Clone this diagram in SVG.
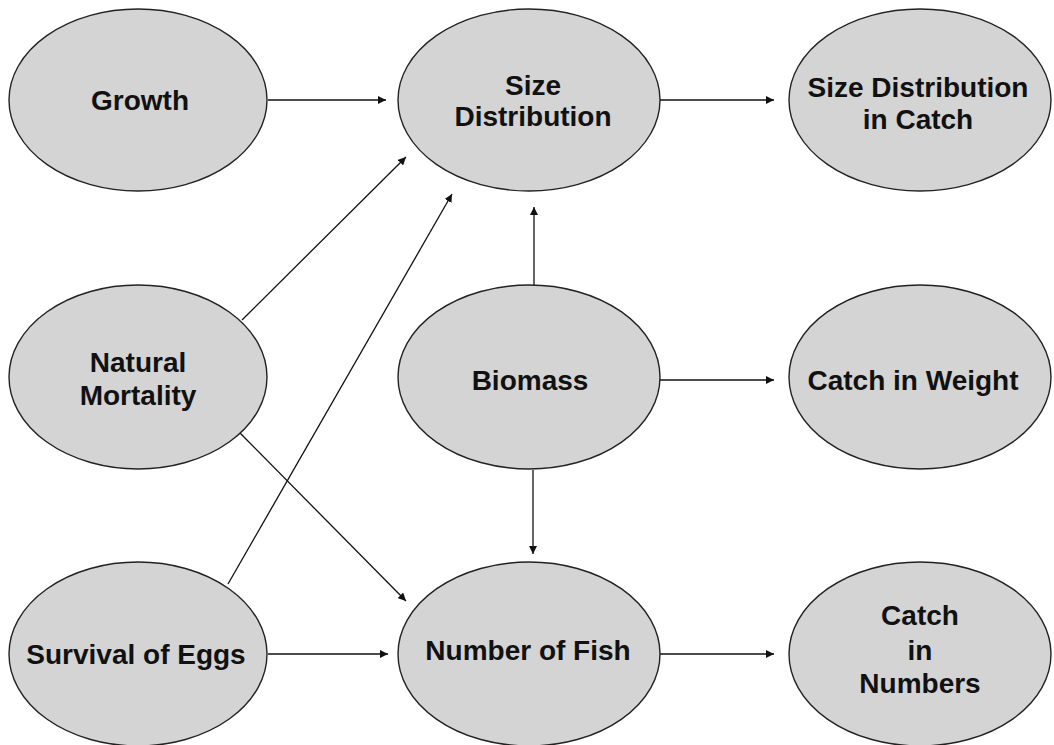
<svg xmlns="http://www.w3.org/2000/svg" width="1054" height="745" viewBox="0 0 1054 745">
<defs>
<style>
.n{fill:#d4d4d4;stroke:#222;stroke-width:1.4}
.t{font-family:"Liberation Sans",Arial,sans-serif;font-weight:bold;font-size:28px;fill:#111;text-anchor:middle}
.c{stroke:#111;stroke-width:1.3;fill:none;marker-end:url(#ah)}
</style>
<marker id="ah" viewBox="0 0 10 10" refX="10" refY="5" markerWidth="8" markerHeight="8" markerUnits="userSpaceOnUse" orient="auto">
<path d="M0,0 L10,5 L0,10 z" fill="#111"/>
</marker>
</defs>
<rect width="1054" height="745" fill="#fff"/>
<g id="connectors">
<line class="c" x1="268" y1="100" x2="386" y2="100"/>
<line class="c" x1="660" y1="100" x2="774" y2="100"/>
<line class="c" x1="660" y1="380" x2="774" y2="380"/>
<line class="c" x1="660" y1="654" x2="774" y2="654"/>
<line class="c" x1="268" y1="654" x2="388" y2="654"/>
<line class="c" x1="534" y1="285" x2="534" y2="207"/>
<line class="c" x1="533" y1="470" x2="533" y2="554"/>
<line class="c" x1="242" y1="320" x2="406" y2="157"/>
<line class="c" x1="228" y1="584" x2="452" y2="194"/>
<line class="c" x1="240" y1="433" x2="406" y2="601"/>
</g>
<g id="growth"><ellipse class="n" cx="138" cy="100" rx="129" ry="91"/><text class="t" x="140" y="110">Growth</text></g>
<g id="size-distribution"><ellipse class="n" cx="529" cy="100" rx="131" ry="91"/><text class="t" x="533" y="95">Size</text><text class="t" x="533" y="126">Distribution</text></g>
<g id="size-distribution-catch"><ellipse class="n" cx="920" cy="100" rx="131" ry="91"/><text class="t" x="918" y="97">Size Distribution</text><text class="t" x="918" y="129">in Catch</text></g>
<g id="natural-mortality"><ellipse class="n" cx="138" cy="377" rx="129" ry="92"/><text class="t" x="138" y="372">Natural</text><text class="t" x="138" y="405">Mortality</text></g>
<g id="biomass"><ellipse class="n" cx="529" cy="377" rx="131" ry="92"/><text class="t" x="530" y="390">Biomass</text></g>
<g id="catch-weight"><ellipse class="n" cx="920" cy="377" rx="131" ry="92"/><text class="t" x="913" y="390">Catch in Weight</text></g>
<g id="survival-eggs"><ellipse class="n" cx="138" cy="654" rx="129" ry="92"/><text class="t" x="136" y="664">Survival of Eggs</text></g>
<g id="number-fish"><ellipse class="n" cx="529" cy="654" rx="131" ry="92"/><text class="t" x="528" y="660">Number of Fish</text></g>
<g id="catch-numbers"><ellipse class="n" cx="920" cy="654" rx="131" ry="92"/><text class="t" x="920" y="625">Catch</text><text class="t" x="920" y="660">in</text><text class="t" x="920" y="693">Numbers</text></g>
</svg>
